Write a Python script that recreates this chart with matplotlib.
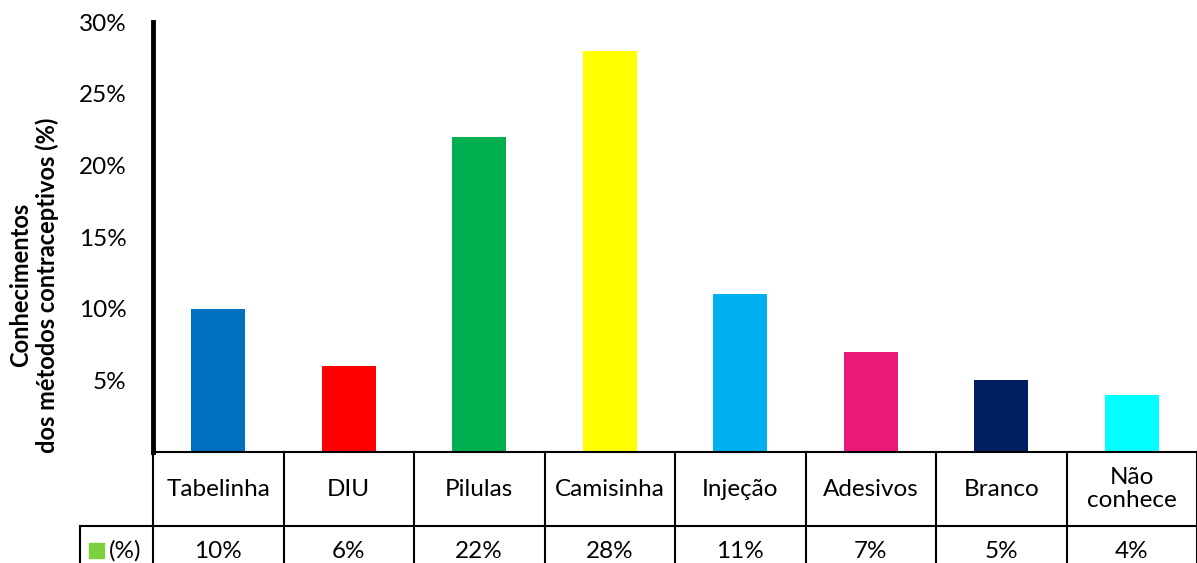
import matplotlib.pyplot as plt
from matplotlib.patches import Rectangle

plt.rcParams['font.family'] = ['Lato', 'DejaVu Sans']

categorias = ['Tabelinha', 'DIU', 'Pilulas', 'Camisinha', 'Injeção', 'Adesivos', 'Branco', 'Não\nconhece']
valores = [10, 6, 22, 28, 11, 7, 5, 4]
cores = ['#0070C0', '#FF0000', '#00B050', '#FFFF00', '#00B0F0', '#EA1A7A', '#002060', '#00FFFF']
yticks = [5, 10, 15, 20, 25, 30]
ytick_labels = ['5%', '10%', '15%', '20%', '25%', '30%']

W, H = 1197, 563
fs = 17.5
fig = plt.figure(figsize=(W / 100, H / 100), dpi=100)
ax = fig.add_axes([153 / W, (H - 452) / H, (W - 153) / W, 430 / H])

x = range(len(categorias))
ax.bar(x, valores, width=0.41, color=cores)

ax.set_xlim(-0.5, len(categorias) - 0.5)
ax.set_ylim(0, 30)
ax.set_yticks(yticks)
ax.set_yticklabels(ytick_labels, fontsize=fs)
ax.tick_params(axis='y', length=0, pad=19)
ax.set_xticks([])
for s in ['top', 'right', 'bottom']:
    ax.spines[s].set_visible(False)
ax.spines['left'].set_linewidth(3.5)

fig.text(34 / W, 1 - 285 / H, 'Conhecimentos\ndos métodos contraceptivos (%)', fontsize=17,
         fontweight='bold', rotation=90, ha='center', va='center', linespacing=1.15)

# tabela de dados abaixo do gráfico
row1 = -74 / 430
row2 = -111 / 430
blend = ax.get_xaxis_transform()
lw = 1.5
ax.plot([-0.5, len(categorias) - 0.5], [0, 0], color='black', lw=lw, transform=blend, clip_on=False)
ax.plot([-0.5 - 73 / 130.5, len(categorias) - 0.5], [row1, row1], color='black', lw=lw,
        transform=blend, clip_on=False)
for i in range(len(categorias) + 1):
    ax.plot([i - 0.5, i - 0.5], [0, row2 - 0.05], color='black', lw=lw, transform=blend, clip_on=False)
ax.plot([-0.5 - 73 / 130.5] * 2, [row1, row2 - 0.05], color='black', lw=lw, transform=blend, clip_on=False)

for i, (c, v) in enumerate(zip(categorias, valores)):
    ax.text(i, row1 / 2, c, ha='center', va='center', fontsize=fs, transform=blend,
            linespacing=1.15)
    ax.text(i, -99 / 430, f'{v}%', ha='center', va='center', fontsize=fs, transform=blend)

ax.add_patch(Rectangle((-0.5 - 64 / 130.5, -106 / 430), 15 / 130.5, 15 / 430, color='#7DD13C',
                       transform=blend, clip_on=False))
ax.text(-0.5 - 44 / 130.5, -99 / 430, '(%)', ha='left', va='center', fontsize=fs, transform=blend)

fig.savefig('out.png', dpi=100)
